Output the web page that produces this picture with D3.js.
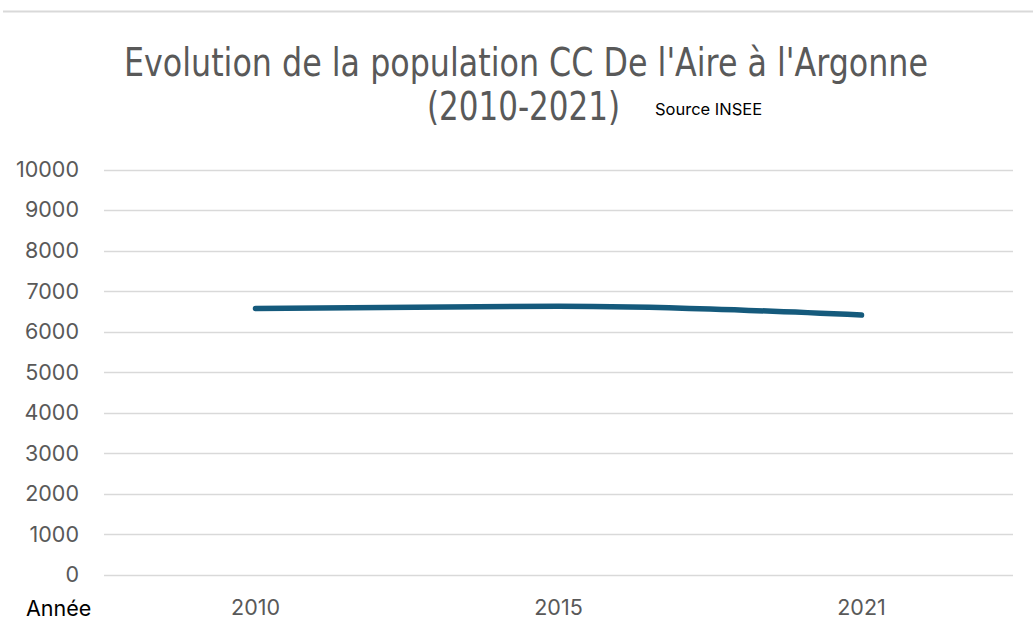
<!DOCTYPE html>
<html><head><meta charset="utf-8">
<script src="https://cdn.jsdelivr.net/npm/d3@7"></script>
<style>body{margin:0;background:#fff}svg{display:block}</style>
</head><body>
<svg id="c" width="1033" height="634"></svg>
<script>
const years = ["2010", "2015", "2021"];
const population = [6570, 6630, 6410];
const yTicks = [0,1000,2000,3000,4000,5000,6000,7000,8000,9000,10000];
const titleLines = ["Evolution de la population CC De l'Aire à l'Argonne", "(2010-2021)"];
const sourceText = "Source INSEE";
const xAxisLabel = "Année";

(function(){
const svg = d3.select("#c");
const mLeft = 104, mRight = 1013, mTop = 169.5, mBottom = 575;
const labelFont = "Inter, 'Noto Sans', sans-serif";
const titleFont = "'DejaVu Sans', sans-serif";

svg.append("line").attr("x1",3).attr("x2",1033).attr("y1",11.5).attr("y2",11.5)
  .attr("stroke","#d9d9d9").attr("stroke-width",2);

const x = d3.scaleBand().domain(years).range([mLeft,mRight]);
const y = d3.scaleLinear().domain([0,10000]).range([mBottom,mTop]);

svg.append("g").selectAll("line").data(yTicks).join("line")
  .attr("x1",mLeft).attr("x2",mRight)
  .attr("y1",d=>Math.round(y(d))+0.5).attr("y2",d=>Math.round(y(d))+0.5)
  .attr("stroke","#d9d9d9").attr("stroke-width",1.5);

const yAxis = svg.append("g").attr("transform",`translate(79,0)`)
  .call(d3.axisLeft(y).tickValues(yTicks).tickSize(0).tickPadding(0).tickFormat(d3.format("d")));
yAxis.select(".domain").remove();
yAxis.selectAll("text").attr("font-family",labelFont).attr("font-size",21.5)
  .attr("fill","#595959");

const xAxis = svg.append("g").attr("transform",`translate(0,${mBottom+25})`)
  .call(d3.axisBottom(x).tickSize(0).tickPadding(0));
xAxis.select(".domain").remove();
xAxis.selectAll("text").attr("font-family",labelFont).attr("font-size",21.5)
  .attr("fill","#595959").attr("dy","0.71em");

svg.append("text").attr("x",26).attr("y",616).text(xAxisLabel)
  .attr("font-family",labelFont).attr("font-size",21.5).attr("fill","#000");

const line = d3.line().x((d,i)=>x(years[i])+x.bandwidth()/2).y(d=>y(d)).curve(d3.curveMonotoneX);
svg.append("path").datum(population).attr("d",line).attr("fill","none")
  .attr("stroke","#155a7c").attr("stroke-width",5.5).attr("stroke-linecap","round");

svg.append("text").attr("x",124).attr("y",76)
  .attr("font-family",titleFont).style("font-stretch","condensed")
  .attr("font-size",39).attr("fill","#595959")
  .attr("textLength",804).attr("lengthAdjust","spacingAndGlyphs").text(titleLines[0]);
svg.append("text").attr("x",427).attr("y",120)
  .attr("font-family",titleFont).style("font-stretch","condensed")
  .attr("font-size",39).attr("fill","#595959")
  .attr("textLength",193).attr("lengthAdjust","spacingAndGlyphs").text(titleLines[1]);
svg.append("text").attr("x",655).attr("y",115)
  .attr("font-family",labelFont).attr("font-size",16.5).attr("fill","#000").text(sourceText);
})();
</script>
</body></html>
